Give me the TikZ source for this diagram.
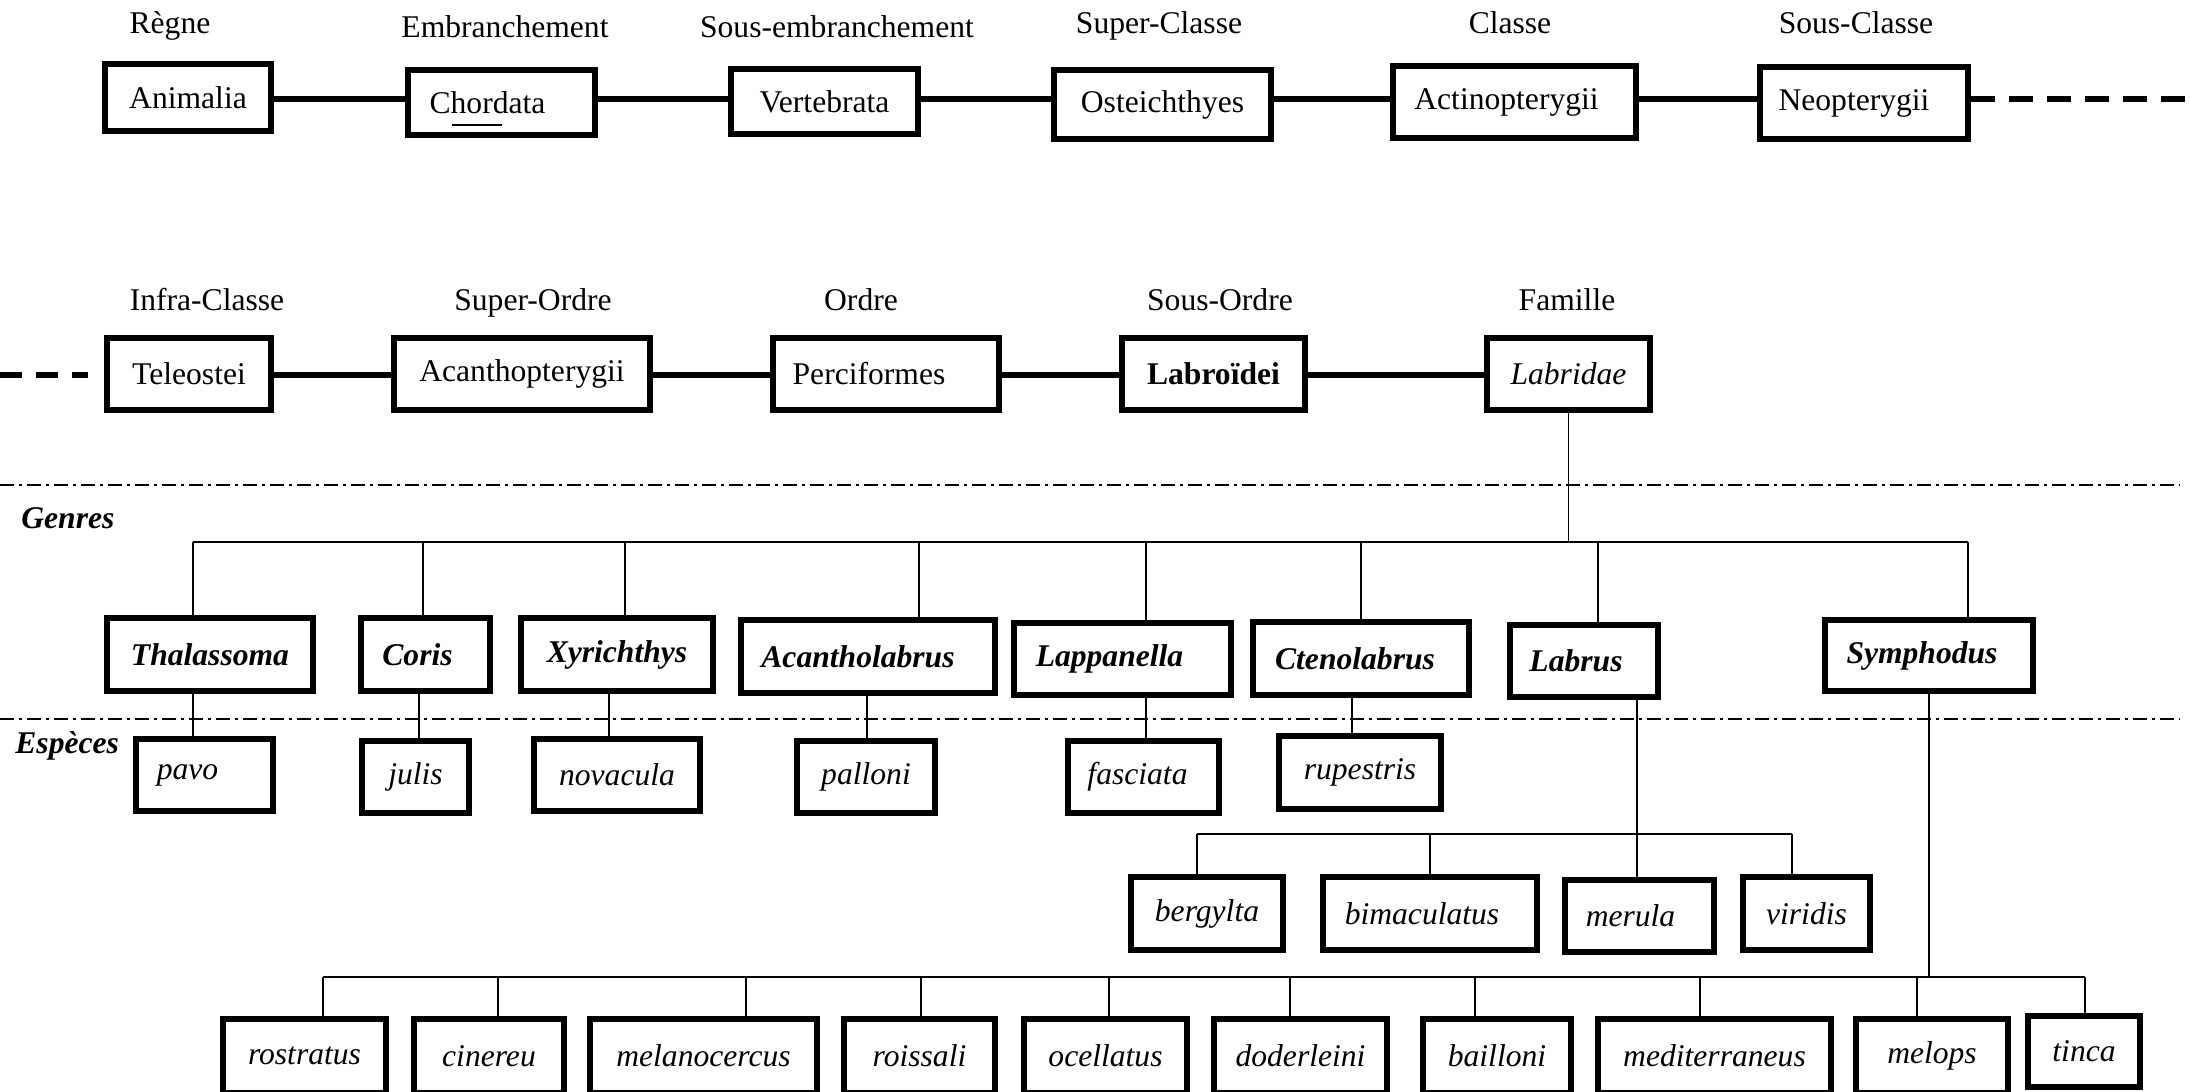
\documentclass[tikz,border=0pt]{standalone}
\usepackage{fontspec}
\setmainfont{Liberation Serif}
\begin{document}
\begin{tikzpicture}[x=0.5pt,y=-0.5pt,
  font=\fontsize{15.8}{19}\selectfont,
  box/.style={draw, line width=2.8pt, inner sep=0pt, fill=white},
  sz/.style 2 args={minimum width={#1*0.5pt-2.8pt}, minimum height={#2*0.5pt-2.8pt}},
  shl/.style={execute at end node={\kern#1pt}},
  rank/.style={anchor=base, inner sep=0pt},
  link/.style={line width=2.6pt},
  dashlink/.style={line width=2.6pt, dash pattern=on 12pt off 7pt},
  sepline/.style={line width=1.2pt, dash pattern=on 7pt off 2.5pt on 1.5pt off 2.5pt},
  barline/.style={line width=1.3pt},
  drop/.style={line width=0.9pt},
  genus/.style={box, font=\fontsize{15.8}{19}\selectfont\bfseries\itshape},
  species/.style={box, font=\fontsize{15.8}{19}\selectfont\itshape},
  side/.style={anchor=base west, inner sep=0pt, font=\fontsize{15.8}{19}\selectfont\bfseries\itshape}]
\useasboundingbox (0,0) rectangle (2190,1092);
\fill[white] (0,0) rectangle (2190,1092);

% ---------- separators ----------
\draw[sepline] (0,485) -- (2180,485);
\draw[sepline] (0,719) -- (2180,719);

% ---------- rank labels ----------
\node[rank] (lregne) at (170,33) {Règne};
\node[rank] (lembr) at (505,37) {Embranchement};
\node[rank] (lsembr) at (837,38) {Sous-embranchement};
\node[rank] (lsupcl) at (1159,33) {Super-Classe};
\node[rank] (lclasse) at (1510,33) {Classe};
\node[rank] (lsouscl) at (1856,33) {Sous-Classe};
\node[rank] (linfra) at (207,310) {Infra-Classe};
\node[rank] (lsupord) at (533,310) {Super-Ordre};
\node[rank] (lordre) at (861,310) {Ordre};
\node[rank] (lsousord) at (1220,310) {Sous-Ordre};
\node[rank] (lfam) at (1567,310) {Famille};
\node[side] (lgenres) at (21,528) {Genres};
\node[side] (lesp) at (15,753) {Espèces};

% ---------- row 1 ----------
\node[box, sz={172}{73}] (animalia) at (188,97.5) {Animalia};
\node[box, sz={193}{71}, shl=14] (chordata) at (501.5,102.5) {Chordata};
\node[box, sz={193}{71}] (vertebrata) at (824.5,101.5) {Vertebrata};
\node[box, sz={223}{75}] (osteichthyes) at (1162.5,104.5) {Osteichthyes};
\node[box, sz={249}{78}, shl=8] (actino) at (1514.5,102) {Actinopterygii};
\node[box, sz={214}{78}, shl=10] (neopt) at (1864,103) {Neopterygii};
\draw[line width=0.8pt] ([xshift=-25pt,yshift=-11.25pt]chordata.center) -- ([xshift=0.3pt,yshift=-11.25pt]chordata.center);

\coordinate (r1) at (0,99);
\coordinate (r1end) at (2190,99);
\draw[link] (animalia.east |- r1) -- (chordata.west |- r1);
\draw[link] (chordata.east |- r1) -- (vertebrata.west |- r1);
\draw[link] (vertebrata.east |- r1) -- (osteichthyes.west |- r1);
\draw[link] (osteichthyes.east |- r1) -- (actino.west |- r1);
\draw[link] (actino.east |- r1) -- (neopt.west |- r1);
\draw[dashlink] (neopt.east |- r1) -- (r1end);

% ---------- row 2 ----------
\node[box, sz={170}{78}] (teleostei) at (189,374) {Teleostei};
\node[box, sz={262}{78}] (acanth) at (522,374) {Acanthopterygii};
\node[box, sz={232}{78}, shl=17] (perci) at (886,374) {Perciformes};
\node[box, sz={189}{78}, font=\fontsize{15.8}{19}\selectfont\bfseries] (labroidei) at (1213.5,374) {Labroïdei};
\node[box, sz={169}{78}, font=\fontsize{15.8}{19}\selectfont\itshape] (labridae) at (1568.5,374) {Labridae};

\coordinate (r2) at (0,375);
\coordinate (r2start) at (0,375);
\draw[link, dash pattern=on 11pt off 7pt] (r2start) -- (88,375);
\draw[link] (teleostei.east |- r2) -- (acanth.west |- r2);
\draw[link] (acanth.east |- r2) -- (perci.west |- r2);
\draw[link] (perci.east |- r2) -- (labroidei.west |- r2);
\draw[link] (labroidei.east |- r2) -- (labridae.west |- r2);

% ---------- genera ----------
\node[genus, sz={212}{79}] (thal) at (210,654.5) {Thalassoma};
\node[genus, sz={135}{79}, shl=8] (coris) at (425.5,654.5) {Coris};
\node[genus, sz={198}{79}] (xyr) at (617,654.5) {Xyrichthys};
\node[genus, sz={260}{79}, shl=10] (acantho) at (868,656.5) {Acantholabrus};
\node[genus, sz={223}{78}, shl=13] (lapp) at (1122.5,659) {Lappanella};
\node[genus, sz={222}{79}, shl=6] (cten) at (1361,658.5) {Ctenolabrus};
\node[genus, sz={154}{78}, shl=8] (labrus) at (1584,661) {Labrus};
\node[genus, sz={214}{77}, shl=7] (symph) at (1929,655.5) {Symphodus};

\coordinate (g1) at (193,542);
\coordinate (g2) at (423,542);
\coordinate (g3) at (625,542);
\coordinate (g4) at (919,542);
\coordinate (g5) at (1146,542);
\coordinate (g6) at (1361,542);
\coordinate (g7) at (1598,542);
\coordinate (g8) at (1968,542);
\draw[drop] (labridae.south) -- (labridae.south |- g1);
\draw[barline] (g1) -- (g8);
\foreach \g/\n in {g1/thal,g2/coris,g3/xyr,g4/acantho,g5/lapp,g6/cten,g7/labrus,g8/symph}
  \draw[drop] (\g) -- (\n.north -| \g);

% ---------- species, first row ----------
\node[species, sz={143}{78}, shl=17] (pavo) at (204.5,775) {pavo};
\node[species, sz={113}{78}] (julis) at (415.5,777) {julis};
\node[species, sz={172}{78}] (novacula) at (617,775) {novacula};
\node[species, sz={144}{78}] (palloni) at (866,777) {palloni};
\node[species, sz={157}{78}, shl=6] (fasciata) at (1143.5,777) {fasciata};
\node[species, sz={168}{79}] (rupestris) at (1360,772.5) {rupestris};

\coordinate (d1) at (193,0);
\coordinate (d2) at (419,0);
\coordinate (d3) at (609,0);
\coordinate (d4) at (867,0);
\coordinate (d5) at (1146,0);
\coordinate (d6) at (1352,0);
\foreach \d/\a/\b in {d1/thal/pavo,d2/coris/julis,d3/xyr/novacula,d4/acantho/palloni,d5/lapp/fasciata,d6/cten/rupestris}
  \draw[drop] (\a.south -| \d) -- (\b.north -| \d);

% ---------- Labrus species ----------
\node[species, sz={158}{79}] (bergylta) at (1207,913.5) {bergylta};
\node[species, sz={220}{79}, shl=8] (bimac) at (1430,913.5) {bimaculatus};
\node[species, sz={155}{78}, shl=9] (merula) at (1639.5,916) {merula};
\node[species, sz={133}{79}] (viridis) at (1806.5,913.5) {viridis};

\coordinate (l0) at (1637,834);
\coordinate (l1) at (1197,834);
\coordinate (l2) at (1430,834);
\coordinate (l4) at (1792,834);
\draw[drop] (labrus.south -| l0) -- (l0);
\draw[barline] (l1) -- (l4);
\foreach \l/\n in {l1/bergylta,l2/bimac,l0/merula,l4/viridis}
  \draw[drop] (\l) -- (\n.north -| \l);

% ---------- Symphodus species ----------
\node[species, sz={169}{80}] (rostratus) at (304.5,1056) {rostratus};
\node[species, sz={156}{80}] (cinereu) at (489,1056) {cinereu};
\node[species, sz={233}{80}] (melano) at (703.5,1056) {melanocercus};
\node[species, sz={157}{80}] (roissali) at (919.5,1056) {roissali};
\node[species, sz={169}{80}] (ocellatus) at (1105.5,1056) {ocellatus};
\node[species, sz={179}{80}] (doderleini) at (1300.5,1056) {doderleini};
\node[species, sz={154}{80}] (bailloni) at (1497,1056) {bailloni};
\node[species, sz={239}{80}] (medit) at (1714.5,1056) {mediterraneus};
\node[species, sz={158}{80}] (melops) at (1932,1056) {melops};
\node[species, sz={118}{77}] (tinca) at (2084,1051.5) {tinca};

\coordinate (s0) at (1929,977);
\coordinate (s1) at (323,977);
\coordinate (s2) at (498,977);
\coordinate (s3) at (746,977);
\coordinate (s4) at (921,977);
\coordinate (s5) at (1109,977);
\coordinate (s6) at (1290,977);
\coordinate (s7) at (1475,977);
\coordinate (s8) at (1700,977);
\coordinate (s9) at (1917,977);
\coordinate (s10) at (2085,977);
\draw[drop] (symph.south -| s0) -- (s0);
\draw[barline] (s1) -- (s10);
\foreach \s/\n in {s1/rostratus,s2/cinereu,s3/melano,s4/roissali,s5/ocellatus,s6/doderleini,s7/bailloni,s8/medit,s9/melops,s10/tinca}
  \draw[drop] (\s) -- (\n.north -| \s);
\end{tikzpicture}
\end{document}
